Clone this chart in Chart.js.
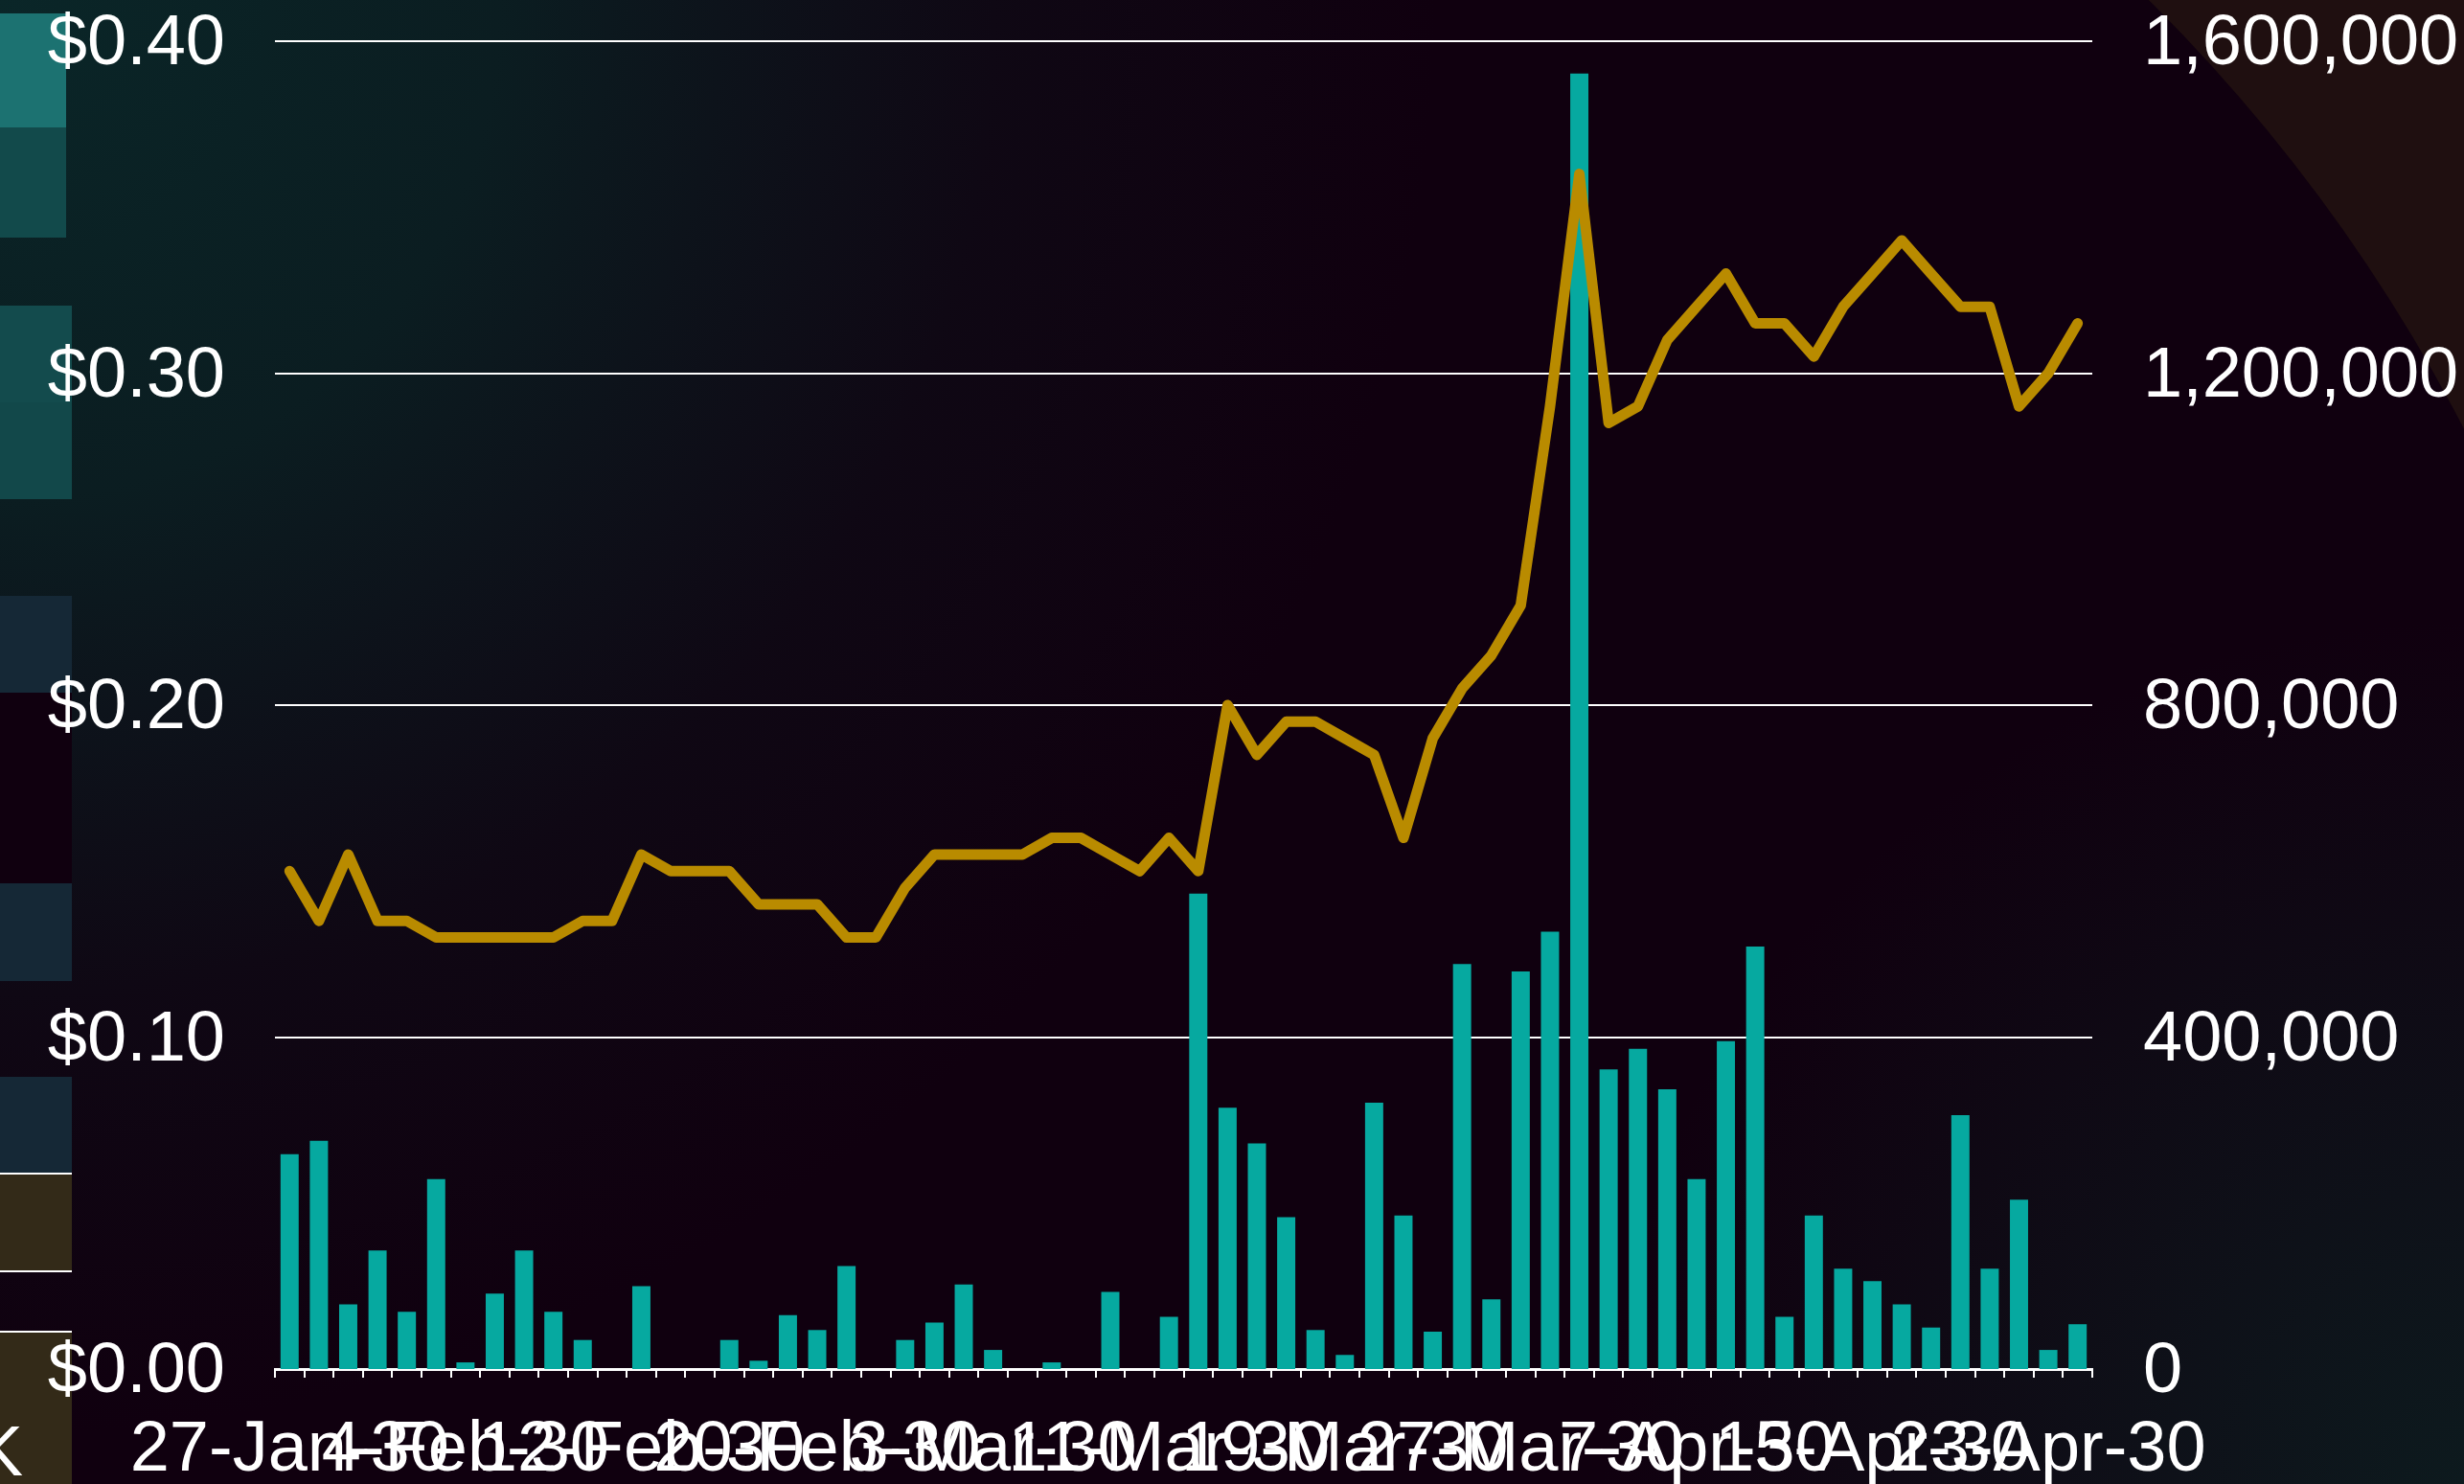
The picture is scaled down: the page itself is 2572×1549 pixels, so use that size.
<!DOCTYPE html>
<html>
<head>
<meta charset="utf-8">
<script src="https://cdn.jsdelivr.net/npm/chart.js@4"></script>
<style>
  html, body { margin: 0; padding: 0; background: #10000f; overflow: hidden; }
  #chart { display: block; }
</style>
</head>
<body>
<canvas id="chart" width="2572" height="1549"></canvas>
<script>
// --- dane ---
const dates = [
  '27-Jan-30', '28-Jan-30', '29-Jan-30', '30-Jan-30', '31-Jan-30', '3-Feb-30', '4-Feb-30', '5-Feb-30',
  '6-Feb-30', '7-Feb-30', '10-Feb-30', '11-Feb-30', '12-Feb-30', '13-Feb-30', '14-Feb-30', '17-Feb-30',
  '18-Feb-30', '19-Feb-30', '20-Feb-30', '21-Feb-30', '24-Feb-30', '25-Feb-30', '26-Feb-30', '28-Feb-30',
  '3-Mar-30', '4-Mar-30', '5-Mar-30', '6-Mar-30', '9-Mar-30', '10-Mar-30', '11-Mar-30', '12-Mar-30',
  '13-Mar-30', '16-Mar-30', '17-Mar-30', '18-Mar-30', '19-Mar-30', '20-Mar-30', '23-Mar-30', '24-Mar-30',
  '25-Mar-30', '26-Mar-30', '27-Mar-30', '30-Mar-30', '31-Mar-30', '1-Apr-30', '2-Apr-30', '6-Apr-30',
  '7-Apr-30', '8-Apr-30', '9-Apr-30', '10-Apr-30', '13-Apr-30', '14-Apr-30', '15-Apr-30', '16-Apr-30',
  '17-Apr-30', '20-Apr-30', '21-Apr-30', '22-Apr-30', '23-Apr-30', '24-Apr-30'
];

const price = [
  0.150, 0.135, 0.155, 0.135, 0.135, 0.130, 0.130, 0.130, 0.130, 0.130,
  0.135, 0.135, 0.155, 0.150, 0.150, 0.150, 0.140, 0.140, 0.140, 0.130,
  0.130, 0.145, 0.155, 0.155, 0.155, 0.155, 0.160, 0.160, 0.155, 0.150,
  0.160, 0.150, 0.200, 0.185, 0.195, 0.195, 0.190, 0.185, 0.160, 0.190,
  0.205, 0.215, 0.230, 0.290, 0.360, 0.285, 0.290, 0.310, 0.320, 0.330,
  0.315, 0.315, 0.305, 0.320, 0.330, 0.340, 0.330, 0.320, 0.320, 0.290,
  0.300, 0.315
];

const volume = [
  259000, 275000, 78000, 143000, 69000, 229000, 8000, 91000, 143000, 69000,
  35000, 0, 100000, 0, 0, 35000, 10000, 65000, 47000, 124000,
  0, 35000, 56000, 102000, 23000, 0, 8000, 0, 93000, 0,
  63000, 573000, 315000, 272000, 183000, 47000, 17000, 321000, 185000, 45000,
  488000, 84000, 479000, 527000, 1561000, 361000, 386000, 337000, 229000, 395000,
  509000, 63000, 185000, 121000, 106000, 78000, 50000, 306000, 121000, 204000,
  23000, 54000
];

const priceTicks = [0, 0.1, 0.2, 0.3, 0.4];
const volumeTicks = [0, 400000, 800000, 1200000, 1600000];
const labelEvery = 6;

const FONT = "'Liberation Sans', Arial, Helvetica, sans-serif";
const FONT_SIZE = 74;

// tło: gradienty, łuk w prawym górnym rogu, pasek po lewej
const backdrop = {
  id: 'backdrop',
  beforeDraw(chart) {
    const ctx = chart.ctx;
    const w = chart.width, h = chart.height;
    ctx.save();
    ctx.fillStyle = '#10000f';
    ctx.fillRect(0, 0, w, h);

    let g = ctx.createRadialGradient(0, 0, 0, 0, 0, 1500);
    g.addColorStop(0, 'rgba(10,38,40,1)');
    g.addColorStop(0.35, 'rgba(10,34,36,0.85)');
    g.addColorStop(0.7, 'rgba(12,30,34,0.25)');
    g.addColorStop(1, 'rgba(12,30,34,0)');
    ctx.fillStyle = g;
    ctx.fillRect(0, 0, w, h);

    g = ctx.createRadialGradient(w, h, 0, w, h, 900);
    g.addColorStop(0, 'rgba(13,26,30,1)');
    g.addColorStop(1, 'rgba(13,26,30,0)');
    ctx.fillStyle = g;
    ctx.fillRect(0, 0, w, h);

    // brązowy obszar poza okręgiem
    ctx.beginPath();
    ctx.rect(0, 0, w, h);
    ctx.arc(982, 1272, 1791, 0, Math.PI * 2);
    ctx.fillStyle = '#1f0f10';
    ctx.fill('evenodd');

    // pasek po lewej
    const strip = [
      [14, 119, 69, '#1c7271'],
      [133, 115, 69, '#124a4b'],
      [319, 101, 75, '#134b4d'],
      [420, 101, 75, '#12484a'],
      [622, 101, 75, '#152836'],
      [723, 199, 75, '#10000f'],
      [922, 102, 75, '#152836'],
      [1124, 101, 75, '#152836'],
      [1225, 102, 75, '#332a18'],
      [1390, 159, 75, '#332a18']
    ];
    strip.forEach(r => {
      ctx.fillStyle = r[3];
      ctx.fillRect(0, r[0], r[2], r[1]);
    });
    ctx.fillStyle = '#ffffff';
    [1225, 1327, 1390].forEach(y => ctx.fillRect(0, y - 1, 75, 2));

    ctx.font = FONT_SIZE + 'px ' + FONT;
    ctx.textAlign = 'right';
    ctx.textBaseline = 'alphabetic';
    ctx.fillText('K', 24, 1540);
    ctx.restore();
  }
};

const ctx = document.getElementById('chart').getContext('2d');

new Chart(ctx, {
  data: {
    labels: dates,
    datasets: [
      {
        type: 'line',
        label: 'Price',
        data: price,
        yAxisID: 'y',
        borderColor: '#b98b00',
        borderWidth: 11,
        borderJoinStyle: 'round',
        borderCapStyle: 'round',
        pointRadius: 0,
        tension: 0,
        order: 0
      },
      {
        type: 'bar',
        label: 'Volume',
        data: volume,
        yAxisID: 'y1',
        backgroundColor: '#06a9a0',
        borderWidth: 0,
        categoryPercentage: 1,
        barPercentage: 0.62,
        order: 1
      }
    ]
  },
  options: {
    responsive: false,
    devicePixelRatio: 1,
    animation: false,
    layout: { padding: { top: 43, left: 0, right: 0, bottom: 0 } },
    plugins: { legend: { display: false }, tooltip: { enabled: false } },
    scales: {
      x: {
        offset: true,
        grid: {
          offset: true,
          drawOnChartArea: false,
          drawTicks: true,
          tickLength: 9,
          color: '#ffffff',
          lineWidth: 2
        },
        border: { display: true, color: '#ffffff', width: 3 },
        ticks: {
          autoSkip: false,
          maxRotation: 0,
          minRotation: 0,
          padding: 32,
          color: '#ffffff',
          font: { family: FONT, size: FONT_SIZE },
          callback: (v, i) => (i % labelEvery === 0 ? dates[i] : '')
        },
        afterFit: s => { s.height = 120; s.paddingLeft = 0; s.paddingRight = 0; }
      },
      y: {
        position: 'left',
        min: 0,
        max: 0.4,
        afterBuildTicks: s => { s.ticks = priceTicks.map(v => ({ value: v })); },
        grid: { color: '#ffffff', lineWidth: 2, drawTicks: false },
        border: { display: false },
        ticks: {
          padding: 52,
          labelOffset: 4,
          color: '#ffffff',
          font: { family: FONT, size: FONT_SIZE },
          callback: v => '$' + Number(v).toFixed(2)
        },
        afterFit: s => { s.width = 287; s.paddingTop = 0; s.paddingBottom = 0; }
      },
      y1: {
        position: 'right',
        min: 0,
        max: 1600000,
        afterBuildTicks: s => { s.ticks = volumeTicks.map(v => ({ value: v })); },
        grid: { display: false, drawTicks: false },
        border: { display: false },
        ticks: {
          padding: 53,
          labelOffset: 4,
          color: '#ffffff',
          font: { family: FONT, size: FONT_SIZE },
          callback: v => Number(v).toLocaleString('en-US')
        },
        afterFit: s => { s.width = 388; s.paddingTop = 0; s.paddingBottom = 0; }
      }
    }
  },
  plugins: [backdrop]
});
</script>
</body>
</html>
